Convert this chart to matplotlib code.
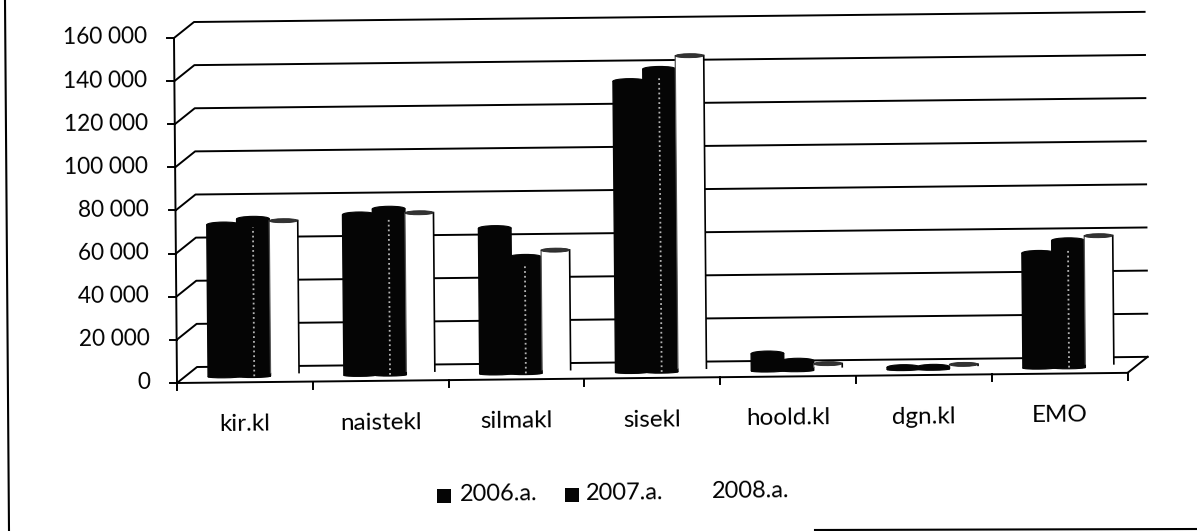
# plot.py - scanned 3D column chart, slightly rotated on the page

import numpy as np
import matplotlib
matplotlib.use("Agg")
import matplotlib.pyplot as plt
from matplotlib.patches import Ellipse, Rectangle
from matplotlib.transforms import Affine2D

# ============================================================
# DATA
# ============================================================
categories = ["kir.kl", "naistekl", "silmakl", "sisekl", "hoold.kl", "dgn.kl", "EMO"]
years = ["2006.a.", "2007.a.", "2008.a."]
values_2006 = [70500, 74500, 67500, 135000, 8000, 1000, 53300]
values_2007 = [73000, 77000, 54000, 140500, 4500, 1000, 59000]
values_2008 = [72000, 75000, 57000, 146500, 3000, 2000, 61000]
y_ticks = [0, 20000, 40000, 60000, 80000, 100000, 120000, 140000, 160000]
y_labels = ["0", "20 000", "40 000", "60 000", "80 000",
            "100 000", "120 000", "140 000", "160 000"]

# ============================================================
# CONFIG
# ============================================================
W, H = 1197, 531
DPI = 100
FONT = "Lato"
TILT = 0.6
LW = 1.4

plt.rcParams["font.family"] = [FONT, "DejaVu Sans"]

fig = plt.figure(figsize=(W / DPI, H / DPI), dpi=DPI)
ax = fig.add_axes([0, 0, 1, 1])
ax.set_xlim(0, W)
ax.set_ylim(H, 0)
ax.set_autoscale_on(False)
ax.axis("off")

# (category, value) -> page pixels, includes the scan rotation
PX_PER_VALUE = 345 / 160000
scale = Affine2D(np.array([[135.8, -3 / 160000, 177],
                           [-1.45, -PX_PER_VALUE, 383],
                           [0, 0, 1]]))
front = scale + ax.transData
bars = scale + Affine2D().translate(8, -6) + ax.transData
n = len(categories)


def px(cat, val, dx=0, dy=0):
    x, y = scale.transform((cat, val))
    return x + dx, y + dy


# ------------------------------------------------------------
# Walls, floor, ticks
# ------------------------------------------------------------
for val, label in zip(y_ticks, y_labels):
    x0, y0 = px(0, val)
    x1, y1 = px(0, val, 20, -16)
    x2, y2 = px(n, val, 20, -16)
    ax.plot([x0, x1, x2], [y0, y1, y2], color="black", lw=LW, zorder=1)
    ax.plot([x0 - 7, x0], [y0, y0], color="black", lw=LW, zorder=1)
    ax.text(x0 - 27, y0 - 1, label, ha="right", va="center", fontsize=16.3,
            rotation=TILT, rotation_mode="anchor", color="black")

ax.plot([0, 0], [0, 160000], color="black", lw=LW, transform=front, zorder=1)
ax.plot([0, n], [0, 0], color="black", lw=LW, transform=front, zorder=1)
x0, y0 = px(n, 0)
x1, y1 = px(n, 0, 20, -16)
ax.plot([x0, x1], [y0, y1], color="black", lw=LW, zorder=1)

for i in range(n + 1):
    x0, y0 = px(i, 0)
    ax.plot([x0, x0], [y0, y0 + 7], color="black", lw=LW, zorder=1)

for i, cat in enumerate(categories):
    x0, y0 = px(i + 0.5, 0)
    ax.text(x0, y0 + 42, cat, ha="center", va="center", fontsize=17.5,
            rotation=TILT, rotation_mode="anchor", color="black")

# ------------------------------------------------------------
# Columns
# ------------------------------------------------------------
BLACK = "#050505"
RIM = 5 / PX_PER_VALUE
FOOT = 2.5 / PX_PER_VALUE
WHITE_BASE = 1500

# 2006 and 2007: solid black cylinders
for s, (vals, off) in enumerate([(values_2006, 0.29), (values_2007, 0.51)]):
    xs = np.arange(n) + off
    ax.bar(xs, vals, 0.24, color=BLACK, edgecolor=BLACK, linewidth=1.0,
           transform=bars, zorder=2 + s)
    for x, v in zip(xs, vals):
        ax.add_patch(Ellipse((x, 0), 0.24, FOOT, facecolor=BLACK, edgecolor=BLACK,
                             lw=0.8, transform=bars, zorder=2 + s))
        ax.add_patch(Ellipse((x, v), 0.24, RIM, facecolor=BLACK, edgecolor=BLACK,
                             lw=0.8, transform=bars, zorder=2 + s))
        # pale highlight down the 2007 columns
        if s == 1 and v > 20000:
            ax.plot([x, x], [0, v - 4000], color="#b5b5b5", lw=1.3, ls=":",
                    transform=bars, zorder=6)

# 2008: white column, only the sides and the rim show
xs = np.arange(n) + 0.735
heights = np.array(values_2008) - WHITE_BASE
ax.bar(xs, heights, 0.21, bottom=WHITE_BASE, color="white", edgecolor="none",
       transform=bars, zorder=4)
for x, v in zip(xs, values_2008):
    ax.plot([x - 0.105, x - 0.105], [WHITE_BASE, v], color="#555555", lw=0.9,
            transform=bars, zorder=5)
    ax.plot([x + 0.105, x + 0.105], [WHITE_BASE, v], color="black", lw=1.2,
            transform=bars, zorder=5)
    ax.add_patch(Ellipse((x, v), 0.21, RIM * 0.8, facecolor="#333333",
                         edgecolor="#222222", lw=0.6, transform=bars, zorder=5))

# ------------------------------------------------------------
# Legend
# ------------------------------------------------------------
for lx, tx, ty, label, box in [(437, 460, 495, years[0], True),
                               (565, 586, 494, years[1], True),
                               (0, 712, 492, years[2], False)]:
    if box:
        ax.add_patch(Rectangle((lx, ty - 6.5), 14, 14, facecolor=BLACK,
                               edgecolor="none", zorder=3))
    ax.text(tx, ty, label, ha="left", va="center", fontsize=17,
            rotation=TILT, rotation_mode="anchor", color="black")

# ------------------------------------------------------------
# Frame left by the scan
# ------------------------------------------------------------
ax.plot([5, 9], [0, 531], color="black", lw=1.5, zorder=1)
ax.plot([815, 1197], [530, 529], color="black", lw=1.5, zorder=1)

fig.savefig("out.png", dpi=DPI)
plt.close(fig)
